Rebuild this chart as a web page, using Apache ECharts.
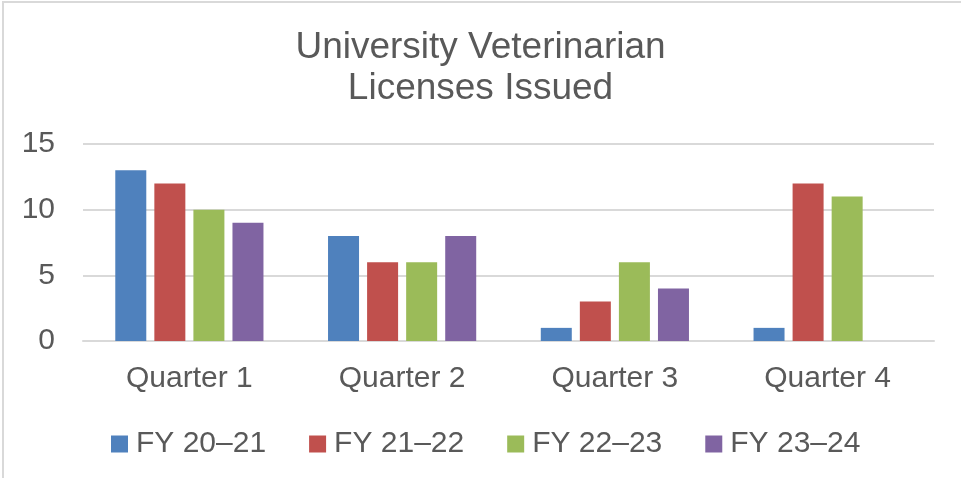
<!DOCTYPE html>
<html>
<head>
<meta charset="utf-8">
<script src="https://cdn.jsdelivr.net/npm/echarts@6/dist/echarts.min.js"></script>
<style>
  html, body { margin: 0; padding: 0; background: #fff; }
  #main { width: 961px; height: 478px; }
  #frame { position: absolute; left: 2px; top: 1px; width: 1100px; height: 700px;
           border: 2px solid #d9d9d9; pointer-events: none; box-sizing: border-box; }
</style>
</head>
<body>
<div id="main"></div>
<div id="frame"></div>
<script>
// 数据
var quarters = ['Quarter 1', 'Quarter 2', 'Quarter 3', 'Quarter 4'];
var seriesNames = ['FY 20\u201321', 'FY 21\u201322', 'FY 22\u201323', 'FY 23\u201324'];
var fy2021 = [13, 8, 1, 1];
var fy2122 = [12, 6, 3, 12];
var fy2223 = [10, 6, 6, 11];
var fy2324 = [9, 8, 4, 0];
var yTicks = [0, 5, 10, 15];

var colors = ['#4F81BD', '#C0504D', '#9BBB59', '#8064A2'];
var txt = '#595959';
var font = '"Liberation Sans", Arial, sans-serif';

var chart = echarts.init(document.getElementById('main'));

function bar(name, data) {
    return {
        name: name,
        type: 'bar',
        data: data,
        barWidth: 31,
        barGap: '26%'
    };
}

var option = {
    animation: false,
    color: colors,
    title: {
        text: 'University Veterinarian\nLicenses Issued',
        left: 'center',
        top: 22,
        textStyle: {
            color: txt,
            fontFamily: font,
            fontWeight: 'normal',
            fontSize: 37,
            lineHeight: 41
        }
    },
    grid: {
        left: 83,
        right: 27,
        top: 144,
        bottom: 137
    },
    legend: {
        data: seriesNames,
        left: 106,
        top: 424,
        itemWidth: 17,
        itemHeight: 17,
        itemGap: 43,
        icon: 'rect',
        textStyle: {
            color: txt,
            fontFamily: font,
            fontSize: 30,
            padding: [0, 0, 0, 3]
        }
    },
    xAxis: {
        type: 'category',
        data: quarters,
        axisTick: { show: false },
        axisLine: { lineStyle: { color: '#d9d9d9', width: 2 } },
        axisLabel: {
            color: txt,
            fontFamily: font,
            fontSize: 30,
            margin: 23
        }
    },
    yAxis: {
        type: 'value',
        min: yTicks[0],
        max: yTicks[yTicks.length - 1],
        interval: 5,
        axisLine: { show: false },
        axisTick: { show: false },
        splitLine: { lineStyle: { color: '#d9d9d9', width: 2 } },
        axisLabel: {
            color: txt,
            fontFamily: font,
            fontSize: 30,
            margin: 28
        }
    },
    series: [
        bar(seriesNames[0], fy2021),
        bar(seriesNames[1], fy2122),
        bar(seriesNames[2], fy2223),
        bar(seriesNames[3], fy2324)
    ]
};

chart.setOption(option);
</script>
</body>
</html>
